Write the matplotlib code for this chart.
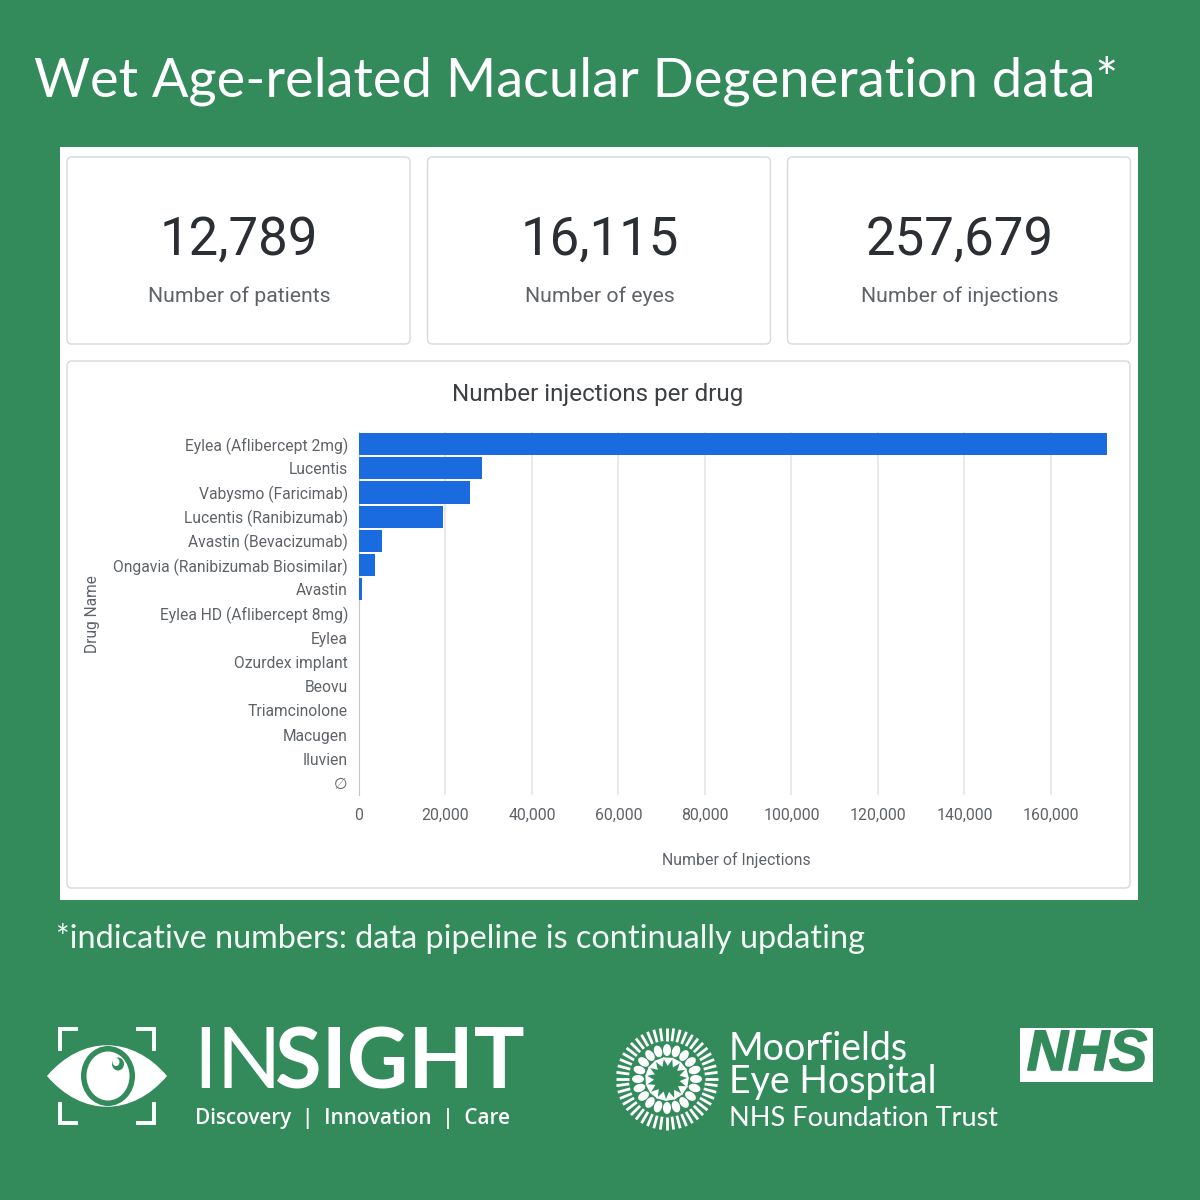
import numpy as np
import matplotlib
matplotlib.use("Agg")
import matplotlib.pyplot as plt
import matplotlib.patheffects as pe
from matplotlib.patches import Ellipse, FancyBboxPatch, PathPatch, Polygon, Rectangle
from matplotlib.path import Path
from matplotlib.ticker import FuncFormatter

plt.rcParams["font.family"] = ["Roboto", "DejaVu Sans"]

GREEN = "#338b5c"
GREY = "#5f6368"

drugs = [
    "Eylea (Aflibercept 2mg)", "Lucentis", "Vabysmo (Faricimab)", "Lucentis (Ranibizumab)",
    "Avastin (Bevacizumab)", "Ongavia (Ranibizumab Biosimilar)", "Avastin",
    "Eylea HD (Aflibercept 8mg)", "Eylea", "Ozurdex implant", "Beovu", "Triamcinolone",
    "Macugen", "Iluvien", "∅",
]
injections = [173000, 28400, 25700, 19500, 5300, 3700, 800, 100, 80, 60, 40, 20, 10, 5, 5]
x_ticks = [0, 20000, 40000, 60000, 80000, 100000, 120000, 140000, 160000]

card_values = ["12,789", "16,115", "257,679"]
card_labels = ["Number of patients", "Number of eyes", "Number of injections"]
card_lefts = [67, 427.5, 787.5]

fig = plt.figure(figsize=(12, 12), dpi=100, facecolor=GREEN)

# full page layer in pixel coordinates, y going down
bg = fig.add_axes([0, 0, 1, 1])
bg.set_xlim(0, 1200)
bg.set_ylim(1200, 0)
bg.axis("off")


def card(x0, y0, x1, y1):
    bg.add_patch(FancyBboxPatch((x0 + 4, y0 + 4), x1 - x0 - 8, y1 - y0 - 8,
                                boxstyle="round,pad=4,rounding_size=5",
                                fc="white", ec="#d9dbde", lw=1.1))


bg.text(34, 81, "Wet Age-related Macular Degeneration data*", color="white",
        fontsize=39, family="Lato", va="center", ha="left")
bg.add_patch(Rectangle((60, 147), 1078, 753, fc="white", ec="none"))

for left, value, label in zip(card_lefts, card_values, card_labels):
    card(left, 157, left + 343, 344)
    bg.text(left + 172, 240, value, ha="center", va="center", fontsize=38, color="#2b2e33")
    bg.text(left + 172, 296, label, ha="center", va="center", fontsize=15.3, color=GREY)

card(67, 361, 1130, 888)
bg.text(598, 394, "Number injections per drug", ha="center", va="center", fontsize=17.4, color="#3c4043")
bg.text(93, 614, "Drug Name", rotation=90, ha="center", va="center", fontsize=11.2, color=GREY)
bg.text(736, 860, "Number of Injections", ha="center", va="center", fontsize=11.4, color=GREY)

bg.text(56, 938, "*indicative numbers: data pipeline is continually updating", color="white",
        fontsize=23.3, family="Lato", va="center", ha="left", alpha=0.95)

# bar chart
ax = fig.add_axes([359 / 1200, 1 - 795 / 1200, (1107 - 359) / 1200, (795 - 432) / 1200])
ax.patch.set_alpha(0)
pos = np.arange(len(drugs))
ax.barh(pos, injections, height=0.91, color="#1a6ae0", linewidth=0, zorder=3)
ax.set_ylim(14.5, -0.5)
ax.set_xlim(0, 172950)
ax.set_yticks(pos, drugs)
ax.set_xticks(x_ticks)
ax.xaxis.set_major_formatter(FuncFormatter(lambda v, _: f"{int(v):,}"))
ax.tick_params(axis="both", length=0, labelcolor=GREY)
ax.tick_params(axis="y", pad=8, labelsize=11.25)
ax.tick_params(axis="x", pad=9.5, labelsize=11.4)
ax.grid(axis="x", color="#e3e5e8", lw=1.2, zorder=0)
for name, spine in ax.spines.items():
    spine.set_visible(name == "left")
ax.spines["left"].set_color("#c4c7cb")

# INSIGHT logo
bg.add_patch(PathPatch(Path([(47, 1076), (82, 1035), (132, 1035), (167, 1076), (132, 1117), (82, 1117), (47, 1076)],
                            [Path.MOVETO, Path.CURVE4, Path.CURVE4, Path.CURVE4, Path.CURVE4, Path.CURVE4, Path.CURVE4]),
                       fc="white", ec="none"))
bg.add_patch(Ellipse((108, 1076), 54, 60, fc=GREEN, ec="none"))
bg.add_patch(Ellipse((108, 1076), 43, 49, fc="white", ec="none"))
bg.add_patch(Ellipse((118, 1064), 12, 13, fc=GREEN, ec="none"))
bg.add_patch(Ellipse((116, 1062), 7, 8, fc="white", ec="none"))
for xs, ys in [((76, 60, 60), (1029, 1029, 1049)), ((138, 154, 154), (1029, 1029, 1049)),
               ((60, 60, 76), (1104, 1123, 1123)), ((154, 154, 138), (1104, 1123, 1123))]:
    bg.plot(xs, ys, color="white", lw=2.8, solid_joinstyle="miter")
bg.text(193, 1064, "IN", color="white", fontsize=61, family="Lato", va="center", ha="left")
bg.text(275, 1064, "SIGHT", color="white", fontsize=61, family="Lato", weight="bold", va="center", ha="left")
bg.text(195, 1118.5, "Discovery  |  Innovation  |  Care", color="white", fontsize=14.9,
        family="Open Sans", weight="semibold", va="center", ha="left")

# Moorfields sunburst
cx, cy = 667, 1079
for a in np.deg2rad(np.arange(0, 360, 7.5)):
    bg.plot([cx + 38 * np.cos(a), cx + 51 * np.cos(a)], [cy + 38 * np.sin(a), cy + 51 * np.sin(a)],
            color="white", lw=2.0, solid_capstyle="butt")
for a in np.arange(0, 360, 18):
    bg.add_patch(Ellipse((cx + 29 * np.cos(np.deg2rad(a)), cy + 29 * np.sin(np.deg2rad(a))),
                         12, 8, angle=a, fc="white", ec="none"))
for a in np.deg2rad(np.arange(9, 369, 24)):
    da = 0.24
    bg.add_patch(Polygon([(cx + 22 * np.cos(a - da), cy + 22 * np.sin(a - da)),
                          (cx + 22 * np.cos(a + da), cy + 22 * np.sin(a + da)),
                          (cx + 13 * np.cos(a), cy + 13 * np.sin(a))], fc="white", ec="none"))
bg.text(729, 1048.5, "Moorfields", color="white", fontsize=27, family="Lato", va="center", ha="left")
bg.text(729, 1082, "Eye Hospital", color="white", fontsize=27, family="Lato", va="center", ha="left")
bg.text(729, 1119, "NHS Foundation Trust", color="white", fontsize=19.5, family="Lato", va="center", ha="left")

# NHS lozenge
bg.add_patch(Rectangle((1020, 1028), 133, 54, fc="white", ec="none"))
nhs = bg.text(1087, 1055, "NHS", color=GREEN, fontsize=41, family="Liberation Sans", weight="bold",
              style="italic", va="center", ha="center")
nhs.set_path_effects([pe.withStroke(linewidth=1.2, foreground=GREEN)])

fig.savefig("out.png", dpi=100, facecolor=GREEN)
plt.close(fig)
